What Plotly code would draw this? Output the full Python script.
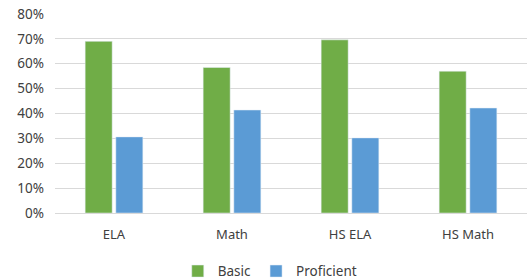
import plotly.graph_objects as go

categories = ["ELA", "Math", "HS ELA", "HS Math"]
basic = [0.69, 0.585, 0.696, 0.57]
proficient = [0.306, 0.414, 0.302, 0.422]
y_ticks = [0, 0.1, 0.2, 0.3, 0.4, 0.5, 0.6, 0.7, 0.8]

font = "Noto Sans, Open Sans, sans-serif"

fig = go.Figure()
fig.add_trace(go.Bar(name="Basic", x=categories, y=basic, marker_color="#70AD47"))
fig.add_trace(go.Bar(name="Proficient", x=categories, y=proficient, marker_color="#5B9BD5"))

fig.update_layout(
    width=529, height=279,
    margin=dict(l=55, r=2, t=14, b=66, autoexpand=False),
    paper_bgcolor="white", plot_bgcolor="white",
    barmode="group", bargap=0.48, bargroupgap=0.12,
    font=dict(family=font, size=13, color="#404040"),
    showlegend=True,
    legend=dict(orientation="h", x=0.455, xanchor="center", y=-0.215, yanchor="top",
                font=dict(size=13.5, color="#404040"), itemwidth=30, traceorder="normal",
                tracegroupgap=0),
    xaxis=dict(showline=False, ticks="", tickfont=dict(size=13, color="#404040"),
               ticklabelstandoff=12),
    yaxis=dict(range=[0, 0.8], tickvals=y_ticks, tickformat=".0%",
               showgrid=True, gridcolor="#D9D9D9", gridwidth=1,
               zeroline=True, zerolinecolor="#D9D9D9", zerolinewidth=1,
               ticks="", tickfont=dict(size=13.5, color="#404040"), ticklabelstandoff=10),
)

fig.write_html("out.html", config={"displayModeBar": False},
               post_script="document.body.style.margin='0';")
